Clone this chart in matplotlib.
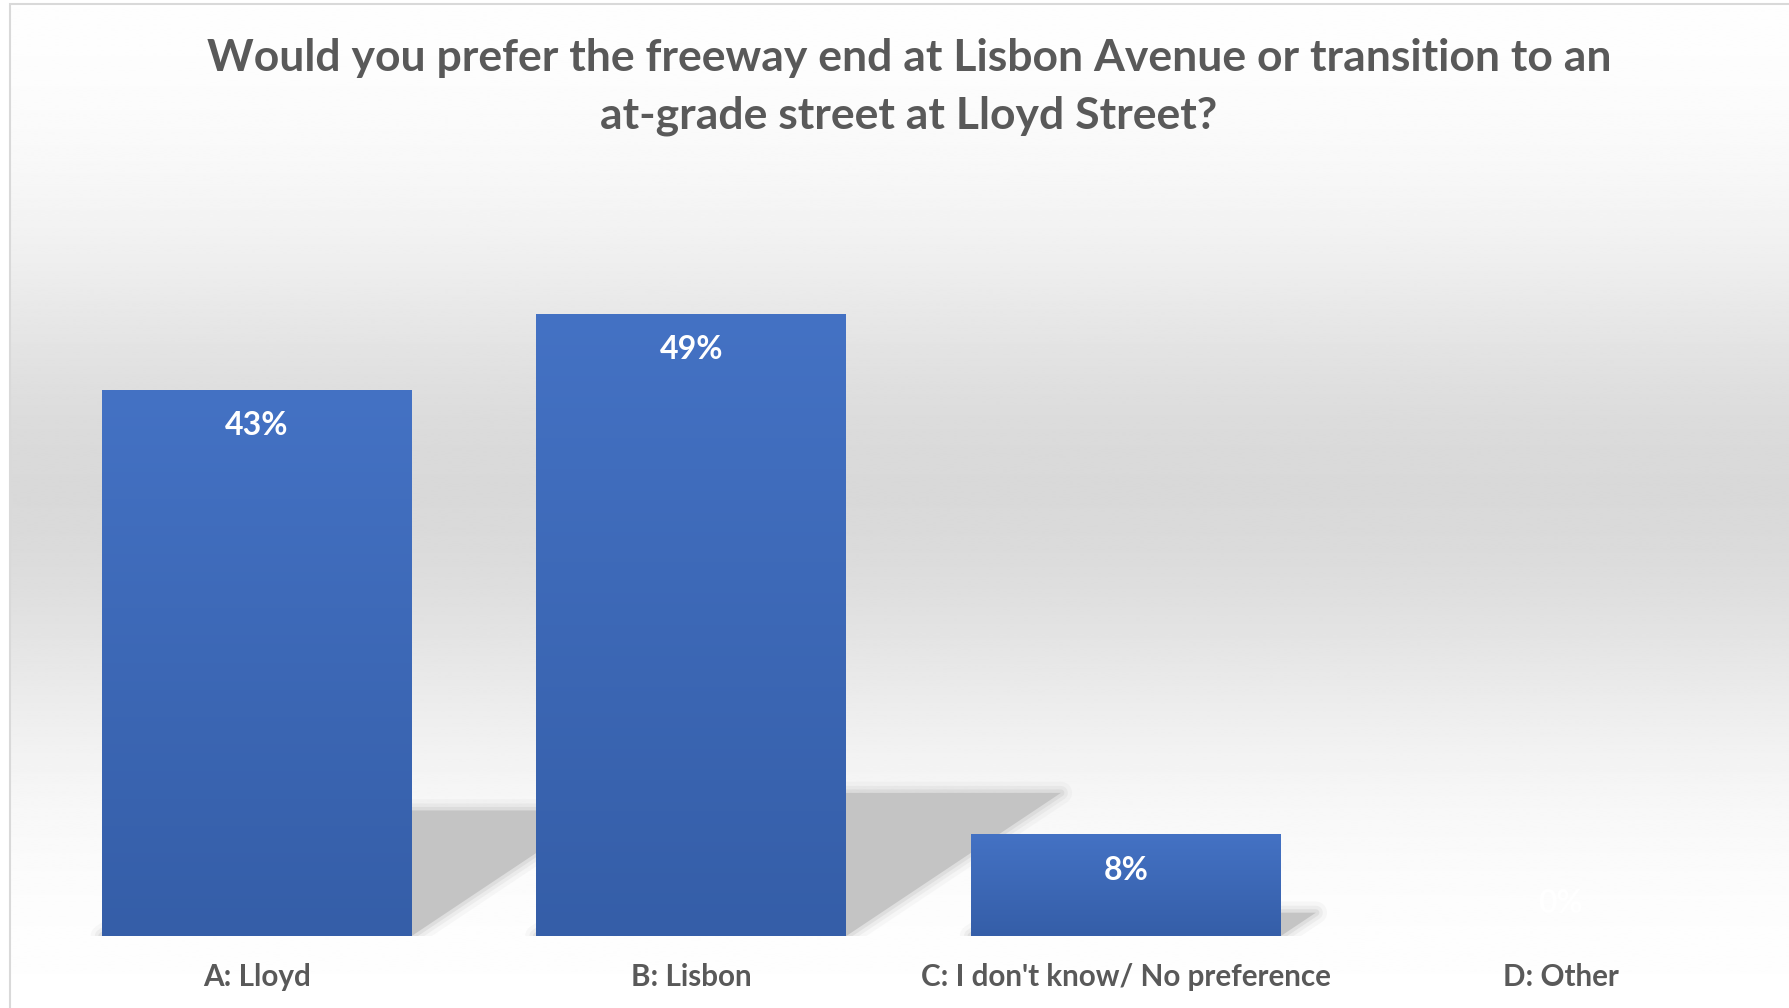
import matplotlib.pyplot as plt
import numpy as np
from matplotlib.patches import Polygon, Rectangle
from matplotlib.colors import LinearSegmentedColormap

categories = ["A: Lloyd", "B: Lisbon", "C: I don't know/ No preference", "D: Other"]
shares = [43, 49, 8, 0]
value_labels = ["43%", "49%", "8%", "0%"]
title = ("Would you prefer the freeway end at Lisbon Avenue or transition to an\n"
         "at-grade street at Lloyd Street?")

plt.rcParams["font.family"] = ["Lato", "DejaVu Sans"]
TEXT_GREY = "#595959"

FIG_W, FIG_H, DPI = 17.9, 10.08, 100
fig = plt.figure(figsize=(FIG_W, FIG_H), dpi=DPI)
fig.patch.set_facecolor("white")

# chart area background: light grey band across the middle, thin border
bg = fig.add_axes([0, 0, 1, 1], zorder=-10)
bg.set_axis_off()
bg.set_xlim(0, 1)
bg.set_ylim(0, 1)
yy = np.linspace(0, 1, 500)
shade = 1 - (38 / 255) * np.exp(-((yy - 0.48) / 0.25) ** 2)
left, top = 10 / 1790, 1 - 4 / 1008
bg.imshow(np.repeat(shade[:, None], 2, axis=1), cmap="gray", vmin=0, vmax=1,
          aspect="auto", extent=[left, 1.01, -0.01, top], interpolation="bilinear")
bg.add_patch(Rectangle((left, -0.05), 1.2, top + 0.05, facecolor="none",
                       edgecolor="#d9d9d9", linewidth=1.5))

ax = fig.add_axes([0.022, 0.0714, 0.9712, 0.756])
ax.patch.set_alpha(0)
x = np.arange(len(categories))
bars = ax.bar(x, shares, width=0.713, color="none", zorder=3)
ax.set_xlim(-0.5, len(categories) - 0.5)
ax.set_ylim(0, 60)
for s in ax.spines.values():
    s.set_visible(False)
ax.set_yticks([])
ax.set_xticks(x, categories)
ax.tick_params(axis="x", length=0, pad=19.5, labelsize=21.3, labelcolor=TEXT_GREY)
for t in ax.get_xticklabels():
    t.set_fontweight("bold")

# perspective shadows behind bars
pos = ax.get_position()
ppx = pos.width * FIG_W * DPI / (ax.get_xlim()[1] - ax.get_xlim()[0])
ppy = pos.height * FIG_H * DPI / (ax.get_ylim()[1] - ax.get_ylim()[0])
k = 0.23
for b in bars:
    h = b.get_height()
    if h <= 0:
        continue
    x0, x1 = b.get_x(), b.get_x() + b.get_width()
    sh = h * k
    dx = 1.5 * sh * ppy / ppx
    pts = [(x0, 0), (x1, 0), (x1 + dx, sh), (x0 + dx, sh)]
    for lw, a in [(16, 0.12), (10, 0.2), (5, 0.35)]:
        ax.add_patch(Polygon(pts, closed=True, facecolor="none", edgecolor="#c6c6c6",
                             linewidth=lw, alpha=a, joinstyle="round", zorder=1))
    ax.add_patch(Polygon(pts, closed=True, facecolor="#c4c4c4", edgecolor="none", zorder=1))

# vertical gradient fill of each bar
bar_cmap = LinearSegmentedColormap.from_list("bar", ["#355ea8", "#4472c4"])
grad = np.linspace(0, 1, 256)[:, None]
for b in bars:
    h = b.get_height()
    if h <= 0:
        continue
    im = ax.imshow(grad, cmap=bar_cmap, aspect="auto", origin="lower",
                   extent=[b.get_x(), b.get_x() + b.get_width(), 0, h], zorder=3)
    im.set_clip_path(b)
ax.set_xlim(-0.5, len(categories) - 0.5)
ax.set_ylim(0, 60)

for b, lbl in zip(bars, value_labels):
    h = b.get_height()
    off = -36 if h > 0 else 33
    ax.annotate(lbl, (b.get_x() + b.get_width() / 2, h), xytext=(0, off * 72 / DPI),
                textcoords="offset points", ha="center", va="center",
                color="white", fontsize=23, fontweight="bold", zorder=5)

fig.text(909 / 1790, 1 - 38 / 1008, title, ha="center", va="top", fontsize=32,
         fontweight="bold", color=TEXT_GREY, linespacing=1.54)

fig.savefig("out.png", dpi=DPI)
